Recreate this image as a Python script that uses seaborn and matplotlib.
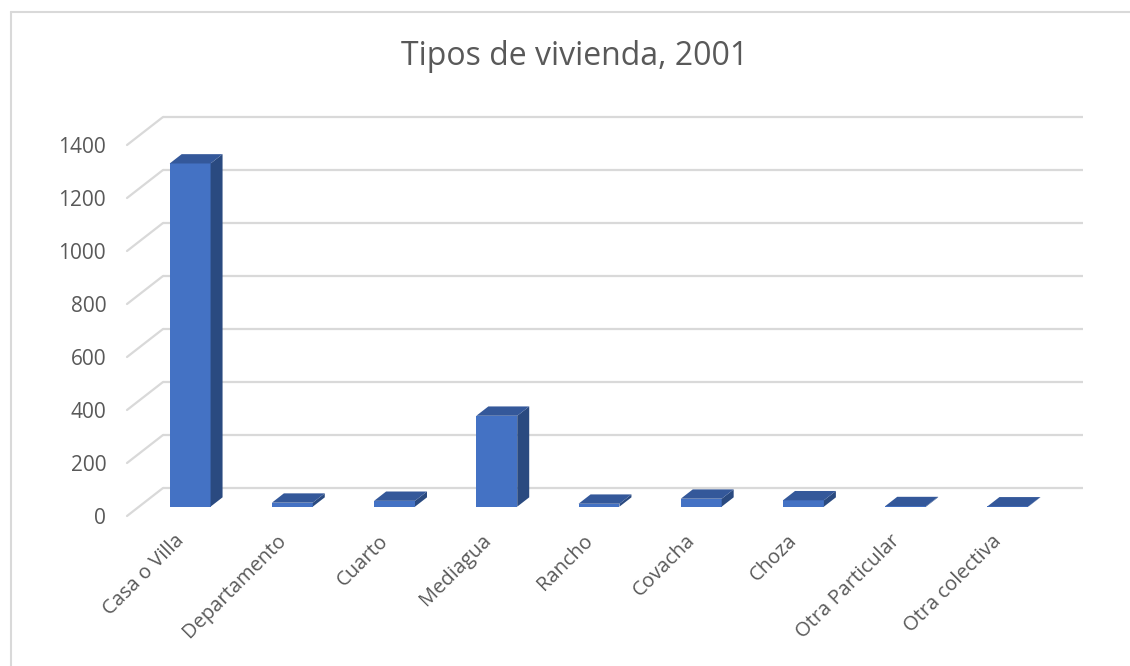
import numpy as np
import pandas as pd
import matplotlib
matplotlib.use("Agg")
import matplotlib.pyplot as plt
import seaborn as sns
from matplotlib.patches import Polygon
from matplotlib.lines import Line2D
from matplotlib.transforms import ScaledTranslation, IdentityTransform

# Datos
categorias = ["Casa o Villa", "Departamento", "Cuarto", "Mediagua", "Rancho",
              "Covacha", "Choza", "Otra Particular", "Otra colectiva"]
viviendas = [1295, 15, 22, 343, 11, 30, 24, 2, 1]
marcas_y = [0, 200, 400, 600, 800, 1000, 1200, 1400]
titulo = "Tipos de vivienda, 2001"

sns.set_theme(style="white")
plt.rcParams["font.family"] = ["Open Sans", "DejaVu Sans"]

DPI = 100
W, H = 1130, 666
fig = plt.figure(figsize=(W / DPI, H / DPI), dpi=DPI)
fig.patch.set_facecolor("white")

# plano frontal del gráfico 3D (en píxeles)
ax = fig.add_axes([127 / W, 150 / H, 920 / W, 371 / H])
ax.set_facecolor("none")

df = pd.DataFrame({"tipo": categorias, "n": viviendas})
sns.barplot(data=df, x="tipo", y="n", ax=ax, color="#4472C4", width=0.4,
            saturation=1, edgecolor="none", linewidth=0, zorder=3)

ax.set_xlim(-0.5, len(categorias) - 0.5)
ax.set_ylim(0, marcas_y[-1])
ax.set_xlabel("")
ax.set_ylabel("")
for s in ax.spines.values():
    s.set_visible(False)

texto = "#595959"
rejilla = "#d9d9d9"

# profundidad del gráfico (px): pared de fondo desplazada
DX, DY = 36.0, 28.0
fondo = ax.transData + ScaledTranslation(DX / DPI, DY / DPI, fig.dpi_scale_trans)

ax.set_yticks(marcas_y)
ax.set_yticklabels([str(v) for v in marcas_y])
ax.tick_params(axis="y", length=0, pad=15, labelsize=15, labelcolor=texto)
ax.set_xticks(range(len(categorias)))
ax.set_xticklabels([])
ax.tick_params(axis="x", length=0)
ax.grid(False)

fig.canvas.draw()

# líneas de la pared de fondo y de la pared lateral
x0, x1 = ax.get_xlim()
for v in marcas_y:
    ax.plot([x0, x1], [v, v], transform=fondo, color=rejilla, lw=1.6,
            clip_on=False, zorder=1, solid_capstyle="butt")
    px, py = ax.transData.transform((x0, v))
    fig.add_artist(Line2D([px, px + DX], [py, py + DY], transform=IdentityTransform(),
                          color=rejilla, lw=1.6, zorder=1))

# columnas 3D: cara frontal, superior y lateral
f1 = (DX / 3, DY / 3)
f2 = (2 * DX / 3, 2 * DY / 3)
frente = ax.transData + ScaledTranslation(f1[0] / DPI, f1[1] / DPI, fig.dpi_scale_trans)
for p in list(ax.patches):
    xb, w, h = p.get_x(), p.get_width(), p.get_height()
    (xl, yb) = ax.transData.transform((xb, 0))
    (xr, yt) = ax.transData.transform((xb + w, h))
    p.set_transform(frente)
    p.set_clip_on(False)
    sup = Polygon([(xl + f1[0], yt + f1[1]), (xr + f1[0], yt + f1[1]),
                   (xr + f2[0], yt + f2[1]), (xl + f2[0], yt + f2[1])],
                  closed=True, transform=IdentityTransform(),
                  facecolor="#34589a", edgecolor="none", zorder=4)
    lat = Polygon([(xr + f1[0], yb + f1[1]), (xr + f2[0], yb + f2[1]),
                   (xr + f2[0], yt + f2[1]), (xr + f1[0], yt + f1[1])],
                  closed=True, transform=IdentityTransform(),
                  facecolor="#2a4a80", edgecolor="none", zorder=4)
    fig.add_artist(lat)
    fig.add_artist(sup)

# etiquetas de categoría giradas
etq = ax.transData + ScaledTranslation(3 / DPI, -22 / DPI, fig.dpi_scale_trans)
for i, c in enumerate(categorias):
    ax.text(i, 0, c, transform=etq, rotation=45, rotation_mode="anchor",
            ha="right", va="center", fontsize=14.5, color=texto, clip_on=False)

# título
fig.text(575 / W, 1 - 65 / H, titulo, ha="center", va="baseline",
         fontsize=23, color=texto)

# marco del área del gráfico
fig.add_artist(Line2D([11 / W, 11 / W], [0, 1 - 12 / H], transform=fig.transFigure,
                      color=rejilla, lw=1.5))
fig.add_artist(Line2D([11 / W, 1], [1 - 12 / H, 1 - 12 / H], transform=fig.transFigure,
                      color=rejilla, lw=1.5))

fig.savefig("out.png", dpi=DPI)
